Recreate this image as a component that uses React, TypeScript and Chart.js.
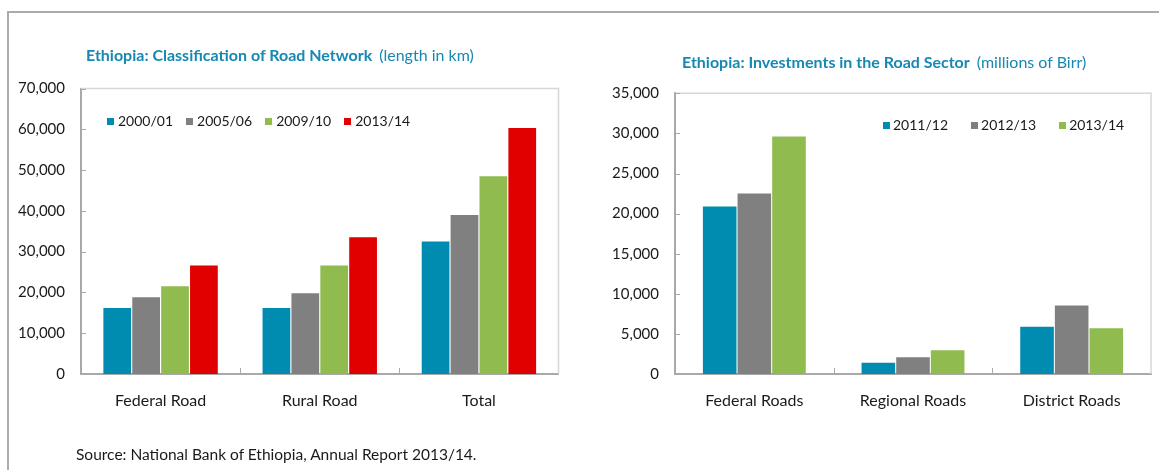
import React, { useEffect, useRef } from 'react';
import { Chart, registerables } from 'chart.js';

Chart.register(...registerables);

// ---------- Data: left chart (Road network, km) ----------
const roadCategories = ['Federal Road', 'Rural Road', 'Total'];
const roadYears = ['2000/01', '2005/06', '2009/10', '2013/14'];
const road2000 = [16200, 16200, 32500];
const road2005 = [18800, 19800, 39000];
const road2009 = [21500, 26600, 48500];
const road2013 = [26600, 33500, 60300];
const roadTicks = [0, 10000, 20000, 30000, 40000, 50000, 60000, 70000];

// ---------- Data: right chart (Investments, millions of Birr) ----------
const invCategories = ['Federal Roads', 'Regional Roads', 'District Roads'];
const invYears = ['2011/12', '2012/13', '2013/14'];
const inv2011 = [20900, 1400, 5900];
const inv2012 = [22500, 2100, 8550];
const inv2013 = [29600, 2950, 5700];
const invTicks = [0, 5000, 10000, 15000, 20000, 25000, 30000, 35000];

const BLUE = '#008bb0';
const GRAY = '#808080';
const GREEN = '#8fbb4f';
const RED = '#e00000';

const FONT = 'Lato, "Open Sans", sans-serif';
const TITLE_COLOR = '#1688b2';
const TEXT_COLOR = '#1a1a1a';
const AXIS_COLOR = '#a9a9a9';

const framePlugin = {
  id: 'frameTicks',
  afterDraw(chart: any) {
    const { ctx, chartArea: a, scales } = chart;
    ctx.save();
    ctx.strokeStyle = '#d6d6d6';
    ctx.lineWidth = 1.5;
    ctx.beginPath();
    ctx.moveTo(a.left, a.top);
    ctx.lineTo(a.right, a.top);
    ctx.lineTo(a.right, a.bottom);
    ctx.stroke();

    ctx.strokeStyle = AXIS_COLOR;
    ctx.lineWidth = 1;
    const ys = scales.y;
    ys.ticks.forEach((t: any) => {
      const y = Math.round(ys.getPixelForValue(t.value)) + 0.5;
      ctx.beginPath();
      ctx.moveTo(a.left, y);
      ctx.lineTo(a.left + 5, y);
      ctx.stroke();
    });
    const xs = scales.x;
    const n = chart.data.labels.length;
    for (let i = 1; i < n; i++) {
      const x = Math.round((xs.getPixelForValue(i - 1) + xs.getPixelForValue(i)) / 2) + 0.5;
      ctx.beginPath();
      ctx.moveTo(x, a.bottom);
      ctx.lineTo(x, a.bottom - 6);
      ctx.stroke();
    }
    ctx.restore();
  },
};

type Series = { label: string; data: number[]; color: string };

function BarChart(props: {
  labels: string[];
  series: Series[];
  ticks: number[];
  width: number;
  height: number;
  padding: { left: number; right: number; top: number; bottom: number };
  yWidth: number;
  catPct: number;
  barPct: number;
  left: number;
}) {
  const ref = useRef<HTMLCanvasElement>(null);
  useEffect(() => {
    const { labels, series, ticks, padding, yWidth, catPct, barPct } = props;
    const chart = new Chart(ref.current!, {
      type: 'bar',
      data: {
        labels,
        datasets: series.map((s) => ({
          label: s.label,
          data: s.data,
          backgroundColor: s.color,
          borderWidth: 0,
          categoryPercentage: catPct,
          barPercentage: barPct,
        })),
      },
      options: {
        animation: false,
        responsive: false,
        maintainAspectRatio: false,
        layout: { padding },
        plugins: {
          legend: { display: false },
          tooltip: { enabled: false },
          title: { display: false },
        },
        scales: {
          x: {
            grid: { display: false, drawTicks: false },
            border: { color: AXIS_COLOR, width: 2 },
            ticks: {
              color: TEXT_COLOR,
              font: { family: FONT, size: 16 },
              padding: 17,
              maxRotation: 0,
            },
            afterFit: (s: any) => {
              s.height = 40;
            },
          },
          y: {
            min: ticks[0],
            max: ticks[ticks.length - 1],
            grid: { display: false, drawTicks: false },
            border: { color: AXIS_COLOR, width: 2 },
            ticks: {
              color: TEXT_COLOR,
              font: { family: FONT, size: 15 },
              padding: 16,
              callback: (v: any) => Number(v).toLocaleString('en-US'),
            },
            afterBuildTicks: (s: any) => {
              s.ticks = ticks.map((v) => ({ value: v }));
            },
            afterFit: (s: any) => {
              s.width = yWidth;
            },
          },
        },
      } as any,
      plugins: [framePlugin],
    });
    return () => chart.destroy();
  }, []);
  return (
    <canvas
      ref={ref}
      width={props.width}
      height={props.height}
      style={{
        position: 'absolute',
        left: props.left,
        top: 0,
        width: props.width,
        height: props.height,
      }}
    />
  );
}

function Legend(props: {
  items: string[];
  colors: string[];
  left: number;
  top: number;
  itemGap: number;
  markerGap: number;
}) {
  return (
    <div
      style={{
        position: 'absolute',
        left: props.left,
        top: props.top,
        display: 'flex',
        alignItems: 'center',
        fontFamily: FONT,
        fontSize: 14,
        lineHeight: '18px',
        color: TEXT_COLOR,
        whiteSpace: 'nowrap',
      }}
    >
      {props.items.map((t, i) => (
        <div
          key={t}
          style={{ display: 'flex', alignItems: 'center', marginRight: props.itemGap }}
        >
          <span
            style={{
              display: 'inline-block',
              width: 7,
              height: 7,
              background: props.colors[i],
              marginRight: props.markerGap,
            }}
          />
          <span>{t}</span>
        </div>
      ))}
    </div>
  );
}

function Title(props: { bold: string; normal: string; left: number; top: number }) {
  return (
    <div
      style={{
        position: 'absolute',
        left: props.left,
        top: props.top,
        fontFamily: FONT,
        fontSize: 16,
        lineHeight: '20px',
        color: TITLE_COLOR,
        whiteSpace: 'nowrap',
      }}
    >
      <span style={{ fontWeight: 700 }}>{props.bold}</span>
      <span style={{ marginLeft: 7 }}>{props.normal}</span>
    </div>
  );
}

export default function App() {
  const roadSeries: Series[] = [
    { label: roadYears[0], data: road2000, color: BLUE },
    { label: roadYears[1], data: road2005, color: GRAY },
    { label: roadYears[2], data: road2009, color: GREEN },
    { label: roadYears[3], data: road2013, color: RED },
  ];
  const invSeries: Series[] = [
    { label: invYears[0], data: inv2011, color: BLUE },
    { label: invYears[1], data: inv2012, color: GRAY },
    { label: invYears[2], data: inv2013, color: GREEN },
  ];

  return (
    <div
      style={{
        position: 'absolute',
        left: 0,
        top: 0,
        width: 1159,
        height: 470,
        background: '#ffffff',
        overflow: 'hidden',
      }}
    >
      <div
        style={{
          position: 'absolute',
          left: 7,
          top: 11,
          width: 1160,
          height: 470,
          borderTop: '2px solid #ababab',
          borderLeft: '2px solid #ababab',
        }}
      />
      <BarChart
        labels={roadCategories}
        series={roadSeries}
        ticks={roadTicks}
        width={580}
        height={470}
        left={0}
        padding={{ left: 10, right: 21.5, top: 88.5, bottom: 56 }}
        yWidth={71}
        catPct={0.726}
        barPct={0.96}
      />
      <BarChart
        labels={invCategories}
        series={invSeries}
        ticks={invTicks}
        width={579}
        height={470}
        left={580}
        padding={{ left: 20, right: 8, top: 93.3, bottom: 56 }}
        yWidth={75}
        catPct={0.655}
        barPct={0.97}
      />
      <Title
        bold="Ethiopia: Classification of Road Network"
        normal="(length in km)"
        left={86}
        top={45}
      />
      <Title
        bold="Ethiopia: Investments in the Road Sector"
        normal="(millions of Birr)"
        left={682}
        top={52}
      />
      <Legend
        items={roadYears}
        colors={[BLUE, GRAY, GREEN, RED]}
        left={107}
        top={112}
        itemGap={13}
        markerGap={4}
      />
      <Legend
        items={invYears}
        colors={[BLUE, GRAY, GREEN]}
        left={883}
        top={116}
        itemGap={23}
        markerGap={3}
      />
      <div
        style={{
          position: 'absolute',
          left: 76,
          top: 444,
          fontFamily: FONT,
          fontSize: 15.5,
          lineHeight: '20px',
          color: TEXT_COLOR,
          whiteSpace: 'nowrap',
        }}
      >
        Source: National Bank of Ethiopia, Annual Report 2013/14.
      </div>
    </div>
  );
}
